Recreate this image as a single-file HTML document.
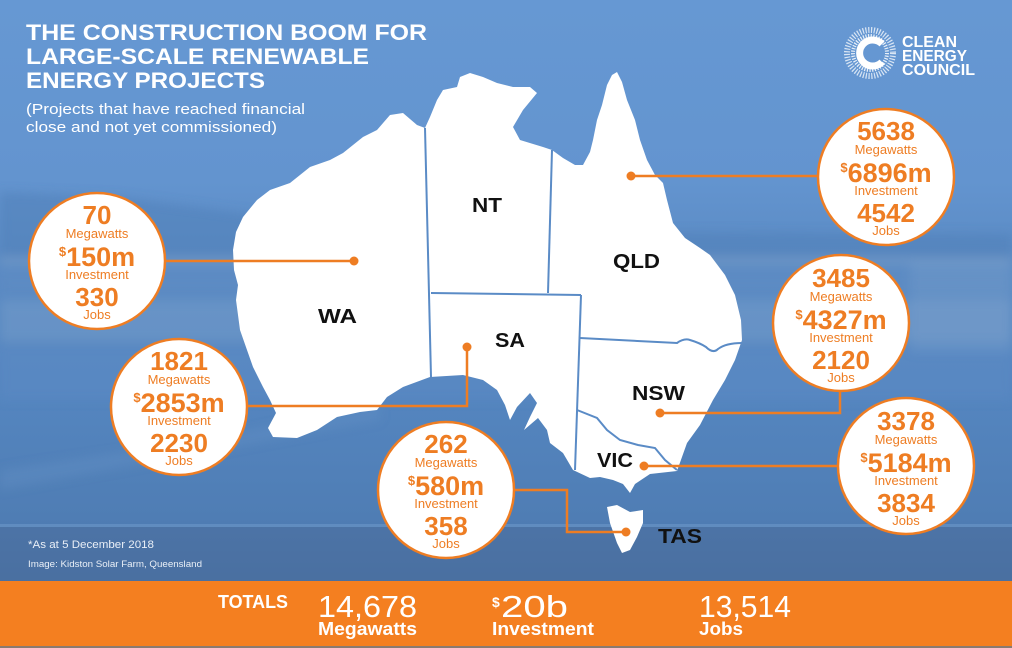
<!DOCTYPE html>
<html><head><meta charset="utf-8"><style>
html,body{margin:0;padding:0;background:#5f92cf;}
svg{display:block;}
text{font-family:"Liberation Sans",sans-serif;}
</style></head><body>
<svg width="1012" height="648" viewBox="0 0 1012 648" xmlns="http://www.w3.org/2000/svg">
<defs>
<linearGradient id="bg" x1="0" y1="0" x2="0" y2="1">
<stop offset="0" stop-color="#6698d3"/>
<stop offset="0.28" stop-color="#6394cf"/>
<stop offset="0.40" stop-color="#5b8bc4"/>
<stop offset="0.62" stop-color="#5485bf"/>
<stop offset="0.80" stop-color="#4f7db4"/>
<stop offset="0.90" stop-color="#4a72a5"/>
<stop offset="1" stop-color="#4a6e9c"/>
</linearGradient>
<filter id="blur" x="-5%" y="-20%" width="110%" height="140%"><feGaussianBlur stdDeviation="5"/></filter>
</defs>
<rect x="0" y="0" width="1012" height="648" fill="url(#bg)"/>
<!-- photo hints -->
<g filter="url(#blur)">
<path d="M0,192 L120,197 L260,215 L420,225 L600,232 L1012,234 L1012,262 L0,262 Z" fill="#4f7fb7" opacity="0.5"/>
<rect x="0" y="256" width="1012" height="9" fill="#8aaad0" opacity="0.4"/>
<rect x="0" y="270" width="1012" height="26" fill="#5f8dc3" opacity="0.4"/>
<rect x="0" y="300" width="1012" height="42" fill="#84a6cd" opacity="0.35"/>
<rect x="0" y="345" width="1012" height="55" fill="#5e8dc5" opacity="0.35"/>
<rect x="910" y="262" width="102" height="90" fill="#7fa3ce" opacity="0.3"/>
<path d="M0,470 L200,440 L380,405 L380,420 L0,490 Z" fill="#6a95c9" opacity="0.3"/>
</g>
<rect x="0" y="524" width="1012" height="3" fill="#6c97c8" opacity="0.6"/>
<rect x="0" y="527" width="1012" height="54" fill="#4a6e9c" opacity="0.55"/>

<!-- map -->
<path d="M425,128 L417,125 L403,113 L390,115 L377,130 L363,137 L343,153 L330,160 L310,167 L290,183 L270,190 L257,200 L243,217 L236,232 L233,250 L234,270 L238,285 L236,300 L240,330 L247,350 L253,367 L263,387 L270,400 L276,413 L268,428 L273,437 L297,438 L317,430 L337,417 L360,412 L377,410 L387,397 L403,387 L430,377 L463,375 L483,380 L497,390 L505,405 L510,420 L517,407 L530,393 L537,403 L530,417 L524,430 L538,418 L547,430 L550,443 L563,453 L573,470 L590,478 L600,477 L613,480 L623,484 L630,493 L635,484 L650,474 L677,471 L687,443 L700,425 L713,400 L725,380 L735,360 L742,340 L741,320 L735,295 L725,275 L710,255 L700,248 L685,238 L673,223 L667,200 L663,183 L655,175 L647,160 L640,140 L635,120 L627,100 L622,82 L617,72 L612,75 L607,85 L602,105 L597,120 L593,140 L590,152 L583,165 L575,165 L563,158 L552,150 L543,147 L520,140 L513,127 L523,110 L537,93 L530,87 L513,87 L497,83 L483,77 L470,73 L460,77 L457,87 L443,90 L437,100 L430,117 Z" fill="#ffffff"/>
<path d="M607,507 L617,505 L630,512 L643,510 L643,523 L637,537 L630,550 L622,553 L617,543 L610,523 Z" fill="#ffffff"/>
<!-- borders -->
<g fill="none" stroke="#5a8bc6" stroke-width="2">
<path d="M425,128 L431,377"/>
<path d="M431,293 L581,295"/>
<path d="M552,150 L548,293"/>
<path d="M581,295 L575,470"/>
<path d="M580,338 L677,343 Q684,338 690,340 Q700,343 706,347 Q713,354 718,349 Q726,343 742,343"/>
<path d="M577,410 L597,418 L607,430 L620,440 L638,445 L655,448 L665,460 L677,470"/>
</g>
<!-- labels -->
<g font-weight="bold" font-size="20" fill="#111">
<text x="472" y="212" textLength="30" lengthAdjust="spacingAndGlyphs">NT</text>
<text x="613" y="268" textLength="47" lengthAdjust="spacingAndGlyphs">QLD</text>
<text x="318" y="323" textLength="39" lengthAdjust="spacingAndGlyphs">WA</text>
<text x="495" y="347" textLength="30" lengthAdjust="spacingAndGlyphs">SA</text>
<text x="632" y="400" textLength="53" lengthAdjust="spacingAndGlyphs">NSW</text>
<text x="597" y="467" textLength="36" lengthAdjust="spacingAndGlyphs">VIC</text>
<text x="658" y="543" textLength="44" lengthAdjust="spacingAndGlyphs">TAS</text>
</g>
<!-- connector lines -->
<g fill="none" stroke="#ee7d23" stroke-width="2.5">
<path d="M631,176 L817,176"/>
<path d="M354,261 L166,261"/>
<path d="M467,347 L467,406 L248,406"/>
<path d="M660,413 L840,413 L840,392"/>
<path d="M644,466 L837,466"/>
<path d="M626,532 L567,532 L567,490 L514,490"/>
</g>
<g fill="#ee7d23">
<circle cx="631" cy="176" r="4.5"/>
<circle cx="354" cy="261" r="4.5"/>
<circle cx="467" cy="347" r="4.5"/>
<circle cx="660" cy="413" r="4.5"/>
<circle cx="644" cy="466" r="4.5"/>
<circle cx="626" cy="532" r="4.5"/>
</g>
<!-- circles -->
<g fill="#ffffff" stroke="#ee7d23" stroke-width="2.5">
<circle cx="886" cy="177" r="68"/>
<circle cx="97" cy="261" r="68"/>
<circle cx="179" cy="407" r="68"/>
<circle cx="446" cy="490" r="68"/>
<circle cx="841" cy="323" r="68"/>
<circle cx="906" cy="466" r="68"/>
</g>
<g fill="#ee7d23" text-anchor="middle">
<!-- QLD -->
<text x="886" y="140" font-size="26" font-weight="bold">5638</text>
<text x="886" y="154" font-size="13">Megawatts</text>
<text x="886" y="182" font-weight="bold"><tspan font-size="13" dy="-10">$</tspan><tspan font-size="27" dy="10">6896m</tspan></text>
<text x="886" y="195" font-size="13">Investment</text>
<text x="886" y="222" font-size="26" font-weight="bold">4542</text>
<text x="886" y="235" font-size="13">Jobs</text>
<!-- WA -->
<text x="97" y="224" font-size="26" font-weight="bold">70</text>
<text x="97" y="238" font-size="13">Megawatts</text>
<text x="97" y="266" font-weight="bold"><tspan font-size="13" dy="-10">$</tspan><tspan font-size="27" dy="10">150m</tspan></text>
<text x="97" y="279" font-size="13">Investment</text>
<text x="97" y="306" font-size="26" font-weight="bold">330</text>
<text x="97" y="319" font-size="13">Jobs</text>
<!-- SA -->
<text x="179" y="370" font-size="26" font-weight="bold">1821</text>
<text x="179" y="384" font-size="13">Megawatts</text>
<text x="179" y="412" font-weight="bold"><tspan font-size="13" dy="-10">$</tspan><tspan font-size="27" dy="10">2853m</tspan></text>
<text x="179" y="425" font-size="13">Investment</text>
<text x="179" y="452" font-size="26" font-weight="bold">2230</text>
<text x="179" y="465" font-size="13">Jobs</text>
<!-- TAS -->
<text x="446" y="453" font-size="26" font-weight="bold">262</text>
<text x="446" y="467" font-size="13">Megawatts</text>
<text x="446" y="495" font-weight="bold"><tspan font-size="13" dy="-10">$</tspan><tspan font-size="27" dy="10">580m</tspan></text>
<text x="446" y="508" font-size="13">Investment</text>
<text x="446" y="535" font-size="26" font-weight="bold">358</text>
<text x="446" y="548" font-size="13">Jobs</text>
<!-- NSW -->
<text x="841" y="287" font-size="26" font-weight="bold">3485</text>
<text x="841" y="301" font-size="13">Megawatts</text>
<text x="841" y="329" font-weight="bold"><tspan font-size="13" dy="-10">$</tspan><tspan font-size="27" dy="10">4327m</tspan></text>
<text x="841" y="342" font-size="13">Investment</text>
<text x="841" y="369" font-size="26" font-weight="bold">2120</text>
<text x="841" y="382" font-size="13">Jobs</text>
<!-- VIC -->
<text x="906" y="430" font-size="26" font-weight="bold">3378</text>
<text x="906" y="444" font-size="13">Megawatts</text>
<text x="906" y="472" font-weight="bold"><tspan font-size="13" dy="-10">$</tspan><tspan font-size="27" dy="10">5184m</tspan></text>
<text x="906" y="485" font-size="13">Investment</text>
<text x="906" y="512" font-size="26" font-weight="bold">3834</text>
<text x="906" y="525" font-size="13">Jobs</text>
</g>

<!-- title -->
<g fill="#ffffff">
<text x="26" y="40" font-size="22" font-weight="bold" textLength="401" lengthAdjust="spacingAndGlyphs">THE CONSTRUCTION BOOM FOR</text>
<text x="26" y="64" font-size="22" font-weight="bold" textLength="343" lengthAdjust="spacingAndGlyphs">LARGE-SCALE RENEWABLE</text>
<text x="26" y="88" font-size="22" font-weight="bold" textLength="239" lengthAdjust="spacingAndGlyphs">ENERGY PROJECTS</text>
<text x="26" y="114" font-size="15" textLength="279" lengthAdjust="spacingAndGlyphs">(Projects that have reached financial</text>
<text x="26" y="132" font-size="15" textLength="251" lengthAdjust="spacingAndGlyphs">close and not yet commissioned)</text>
</g>

<!-- logo -->
<g>
<circle cx="870" cy="53" r="23" fill="none" stroke="#ffffff" stroke-width="6" stroke-dasharray="1.2 1.6" opacity="0.75"/>
<circle cx="870" cy="53" r="17" fill="none" stroke="#ffffff" stroke-width="4" stroke-dasharray="1.2 1.4" opacity="0.85"/>
<path d="M882,44 A13,13 0 1 0 882,62" fill="none" stroke="#ffffff" stroke-width="7"/>
<text x="902" y="47" font-size="16" font-weight="bold" fill="#fff" textLength="55" lengthAdjust="spacingAndGlyphs">CLEAN</text>
<text x="902" y="61" font-size="16" font-weight="bold" fill="#fff" textLength="65" lengthAdjust="spacingAndGlyphs">ENERGY</text>
<text x="902" y="75" font-size="16" font-weight="bold" fill="#fff" textLength="73" lengthAdjust="spacingAndGlyphs">COUNCIL</text>
</g>

<!-- footnotes -->
<text x="28" y="548" font-size="11" fill="#e9eff7" textLength="126" lengthAdjust="spacingAndGlyphs">*As at 5 December 2018</text>
<text x="28" y="567" font-size="9" fill="#e9eff7" textLength="174" lengthAdjust="spacingAndGlyphs">Image: Kidston Solar Farm, Queensland</text>

<!-- bottom bar -->
<rect x="0" y="581" width="1012" height="67" fill="#f47f20"/>
<rect x="0" y="646" width="1012" height="2" fill="#8a7a70"/>
<g fill="#ffffff">
<text x="218" y="608" font-size="18" font-weight="bold" textLength="70" lengthAdjust="spacingAndGlyphs">TOTALS</text>
<text x="318" y="617" font-size="31" textLength="99" lengthAdjust="spacingAndGlyphs">14,678</text>
<text x="318" y="635" font-size="18" font-weight="bold" textLength="99" lengthAdjust="spacingAndGlyphs">Megawatts</text>
<text x="492" y="607" font-size="14" font-weight="bold">$</text>
<text x="501" y="617" font-size="31" textLength="67" lengthAdjust="spacingAndGlyphs">20b</text>
<text x="492" y="635" font-size="18" font-weight="bold" textLength="102" lengthAdjust="spacingAndGlyphs">Investment</text>
<text x="699" y="617" font-size="31" textLength="92" lengthAdjust="spacingAndGlyphs">13,514</text>
<text x="699" y="635" font-size="18" font-weight="bold" textLength="44" lengthAdjust="spacingAndGlyphs">Jobs</text>
</g>
</svg>
</body></html>
